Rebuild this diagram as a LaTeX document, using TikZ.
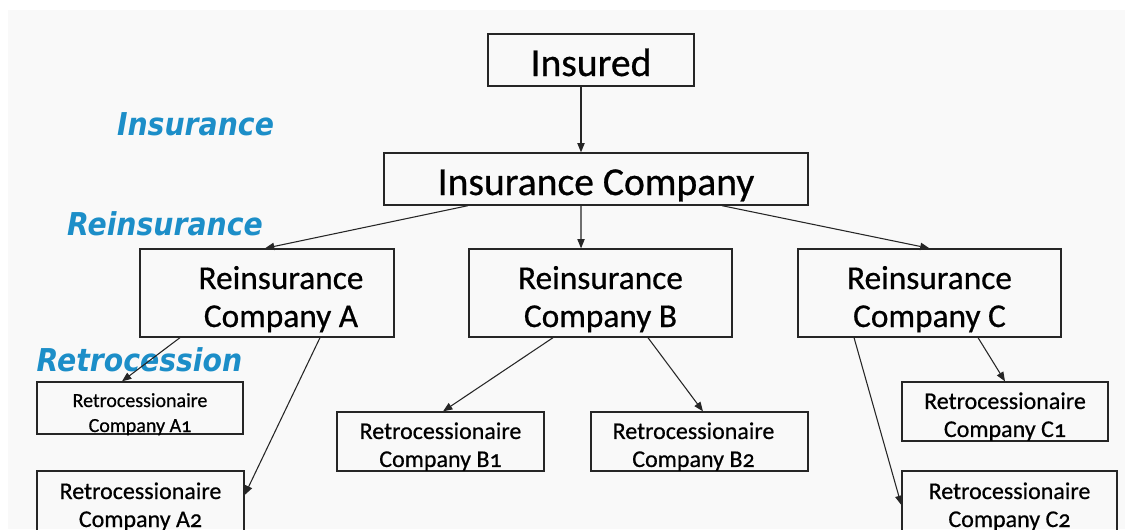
\documentclass[tikz,border=0pt]{standalone}
\usepackage{fontspec}
\setmainfont{Carlito}[FakeBold=0.6,Numbers=OldStyle]
\newfontfamily\labfont{DejaVu Sans}[FakeStretch=0.9]
\usetikzlibrary{arrows.meta}
\definecolor{labblue}{RGB}{28,142,200}
\definecolor{bgcol}{RGB}{249,249,249}
\begin{document}
\begin{tikzpicture}[x=0.75pt,y=-0.75pt,
 box/.style={draw=black!85,line width=1pt,inner sep=0pt,align=center,anchor=center},
 big/.style={font=\fontsize{29.7}{34}\selectfont,text height=24pt,text depth=0pt},
 mid/.style={font=\fontsize{25}{28.5}\selectfont,text height=58pt,text depth=7pt},
 small/.style={font=\fontsize{18}{21}\selectfont},
 tiny/.style={font=\fontsize{15}{18.75}\selectfont,text height=37.5pt,text depth=1.5pt},
 lab/.style={font=\labfont\bfseries\itshape\fontsize{23.6}{28}\selectfont,text=labblue,inner sep=0pt},
 arr/.style={-{Triangle[length=7pt,width=5.5pt]},line width=0.8pt,draw=black!85}]
\useasboundingbox (0,0) rectangle (1125,529);
\clip (0,0) rectangle (1125,529);
\fill[white] (0,0) rectangle (1125,529);
\fill[bgcol] (8,10) rectangle (1125,529);

% labels
\node[lab] (l1) at (195.5,124) {Insurance};
\node[lab] (l2) at (165,224) {Reinsurance};
\node[lab] (l3) at (139.5,360) {Retrocession};

% boxes
\node[box,big,minimum width=154.5pt,minimum height=39pt] (ins) at (591,60) {Insured};
\node[box,big,minimum width=318pt,minimum height=39pt] (ic) at (596,179) {Insurance Company};

\node[box,mid,minimum width=190.5pt,minimum height=66pt] (ra) at (267,293) {\hspace*{21pt}Reinsurance\\\hspace*{21pt}Company A};
\node[box,mid,minimum width=197.25pt,minimum height=66pt] (rb) at (600.5,293) {Reinsurance\\Company B};
\node[box,mid,minimum width=197.25pt,minimum height=66pt] (rc) at (929.5,293) {Reinsurance\\Company C};

\node[box,tiny,minimum width=154.5pt,minimum height=39pt] (a1) at (140,408) {Retrocessionaire\\Company A1};
\node[box,small,text height=41.5pt,text depth=4pt,minimum width=155.25pt,minimum height=46.5pt] (a2) at (140.5,502) {Retrocessionaire\\Company A2};
\node[box,small,text height=41.2pt,text depth=3pt,minimum width=155.25pt,minimum height=44.25pt] (b1) at (440.5,441.5) {Retrocessionaire\\Company B1};
\node[box,small,text height=41.2pt,text depth=3pt,minimum width=162.75pt,minimum height=44.25pt] (b2) at (699.5,441.5) {Retrocessionaire\hspace*{9pt}\\Company B2\hspace*{9pt}};
\node[box,small,text height=41.2pt,text depth=3pt,minimum width=154.5pt,minimum height=44.25pt] (c1) at (1005,411.5) {Retrocessionaire\\Company C1};
\node[box,small,text height=41.5pt,text depth=4pt,minimum width=161.25pt,minimum height=46.5pt] (c2) at (1009.5,502) {Retrocessionaire\\Company C2};

% connectors
\draw[arr] ([xshift=-7.5pt]ins.south) -- ([xshift=-11.25pt]ic.north);
\draw[arr] ([xshift=-96pt]ic.south) -- ([xshift=-1.5pt]ra.north);
\draw[arr] ([xshift=-11.25pt]ic.south) -- ([xshift=-14.6pt]rb.north);
\draw[arr] ([xshift=94.5pt]ic.south) -- (rc.north);
\draw[arr] ([xshift=-65.25pt]ra.south) -- ([xshift=-13.5pt]a1.north);
\draw[arr] ([xshift=39.75pt]ra.south) -- ([yshift=5.25pt]a2.east);
\draw[arr] ([xshift=-35.6pt]rb.south) -- ([xshift=1.9pt]b1.north);
\draw[arr] ([xshift=35.6pt]rb.south) -- ([xshift=2.6pt]b2.north);
\draw[arr] ([xshift=36.4pt]rc.south) -- (c1.north);
\draw[arr] ([xshift=-56.6pt]rc.south) -- ([yshift=-2.25pt]c2.west);
\end{tikzpicture}
\end{document}
